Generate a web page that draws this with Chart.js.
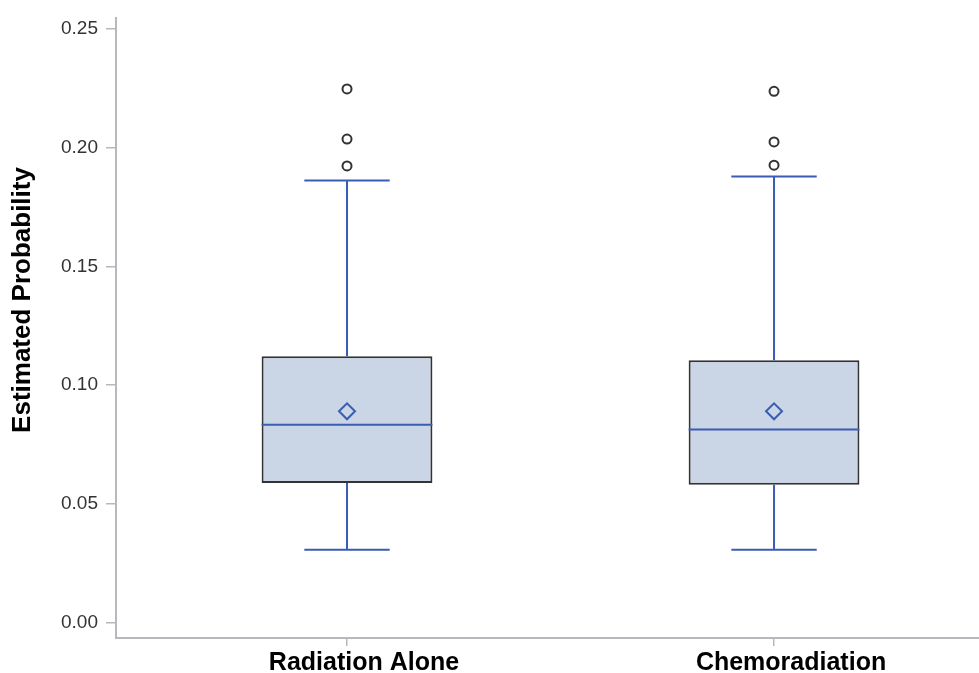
<!DOCTYPE html>
<html>
<head>
<meta charset="utf-8">
<script src="https://cdn.jsdelivr.net/npm/chart.js@4.4.1/dist/chart.umd.min.js"></script>
<style>
  html, body { margin: 0; padding: 0; background: #fff; overflow: hidden; }
</style>
</head>
<body>
<canvas id="boxChart" width="979" height="673"></canvas>
<script>
// data
const groups = ['Radiation Alone', 'Chemoradiation'];
const whiskerLow = [0.0307, 0.0307];
const q1 = [0.0588, 0.0581];
const median = [0.0833, 0.0813];
const q3 = [0.1122, 0.1105];
const whiskerHigh = [0.1862, 0.1879];
const means = [0.0890, 0.0890];
const outliers = [
    [0.1924, 0.2037, 0.2248],
    [0.1927, 0.2025, 0.2238]
];
const yTicks = [0, 0.05, 0.10, 0.15, 0.20, 0.25];

const BOX_HALF = 0.2;  // half box width, in x units
const CAP_HALF = 0.1;  // half whisker cap width

const blue = '#3a5db3';
const boxFill = '#cad5e6';
const axisGray = '#b5b9bd';

// whisker + median segments, broken up with nulls
const segs = [];
groups.forEach((g, i) => {
    segs.push({x: i, y: whiskerLow[i]}, {x: i, y: q1[i]}, {x: i, y: null});
    segs.push({x: i, y: q3[i]}, {x: i, y: whiskerHigh[i]}, {x: i, y: null});
    segs.push({x: i - CAP_HALF, y: whiskerLow[i]}, {x: i + CAP_HALF, y: whiskerLow[i]}, {x: i, y: null});
    segs.push({x: i - CAP_HALF, y: whiskerHigh[i]}, {x: i + CAP_HALF, y: whiskerHigh[i]}, {x: i, y: null});
    segs.push({x: i - BOX_HALF, y: median[i]}, {x: i + BOX_HALF, y: median[i]}, {x: i, y: null});
});

const outlierPts = [];
outliers.forEach((list, i) => list.forEach(v => outlierPts.push({x: i, y: v})));

// y axis title, placed by hand
const yTitle = {
    id: 'yTitle',
    afterDraw(chart) {
        const c = chart.ctx;
        c.save();
        c.translate(23, 300);
        c.rotate(-Math.PI / 2);
        c.font = 'bold 26px "Liberation Sans", Arial, sans-serif';
        c.fillStyle = '#000';
        c.textAlign = 'center';
        c.textBaseline = 'middle';
        c.fillText('Estimated Probability', 0, 0);
        c.restore();
    }
};

const ctx = document.getElementById('boxChart').getContext('2d');
const chart = new Chart(ctx, {
    data: {
        datasets: [
            {
                type: 'bar',
                data: groups.map((g, i) => ({x: i, y: [q1[i], q3[i]]})),
                backgroundColor: boxFill,
                borderColor: '#333',
                borderWidth: 2,
                borderSkipped: false,
                barPercentage: BOX_HALF * 2,
                categoryPercentage: 1,
                order: 3
            },
            {
                type: 'line',
                data: segs,
                borderColor: blue,
                borderWidth: 2,
                pointRadius: 0,
                spanGaps: false,
                order: 2
            },
            {
                type: 'line',
                data: groups.map((g, i) => ({x: i, y: means[i]})),
                showLine: false,
                pointStyle: 'rectRot',
                pointRadius: 8,
                borderWidth: 2,
                borderColor: blue,
                backgroundColor: boxFill,
                order: 1
            },
            {
                type: 'line',
                data: outlierPts,
                showLine: false,
                pointStyle: 'circle',
                pointRadius: 4.5,
                borderWidth: 2,
                borderColor: '#333',
                backgroundColor: '#fff',
                order: 0
            }
        ]
    },
    options: {
        responsive: false,
        animation: false,
        layout: { autoPadding: false, padding: { top: 18, right: 0, left: 0, bottom: 0 } },
        plugins: {
            legend: { display: false },
            tooltip: { enabled: false }
        },
        scales: {
            x: {
                type: 'linear',
                offset: false,
                min: -0.541,
                max: 1.48,
                afterBuildTicks: (scale) => {
                    scale.ticks = groups.map((g, i) => ({value: i}));
                },
                afterFit: (scale) => {
                    scale.height = 35;
                    scale.paddingLeft = 0;
                    scale.paddingRight = 0;
                },
                ticks: {
                    callback: (v) => groups[v],
                    color: '#000',
                    font: { family: '"Liberation Sans", Arial, sans-serif', size: 25, weight: 'bold' },
                    padding: 2,
                    labelOffset: 17,
                    maxRotation: 0
                },
                grid: {
                    offset: false,
                    drawOnChartArea: false,
                    drawTicks: true,
                    tickLength: 8,
                    color: axisGray,
                    lineWidth: 1.5
                },
                border: { color: axisGray, width: 2 }
            },
            y: {
                type: 'linear',
                min: -0.0065,
                max: 0.2547,
                afterBuildTicks: (scale) => {
                    scale.ticks = yTicks.map(v => ({value: v}));
                },
                afterFit: (scale) => {
                    scale.width = 116;
                    scale.paddingTop = 0;
                    scale.paddingBottom = 0;
                },
                ticks: {
                    callback: (v) => v.toFixed(2),
                    color: '#333',
                    font: { family: '"Liberation Sans", Arial, sans-serif', size: 19 },
                    padding: 8
                },
                grid: {
                    drawOnChartArea: false,
                    drawTicks: true,
                    tickLength: 10,
                    color: axisGray,
                    lineWidth: 1.5
                },
                border: { color: axisGray, width: 2 }
            }
        }
    },
    plugins: [yTitle]
});
</script>
</body>
</html>
